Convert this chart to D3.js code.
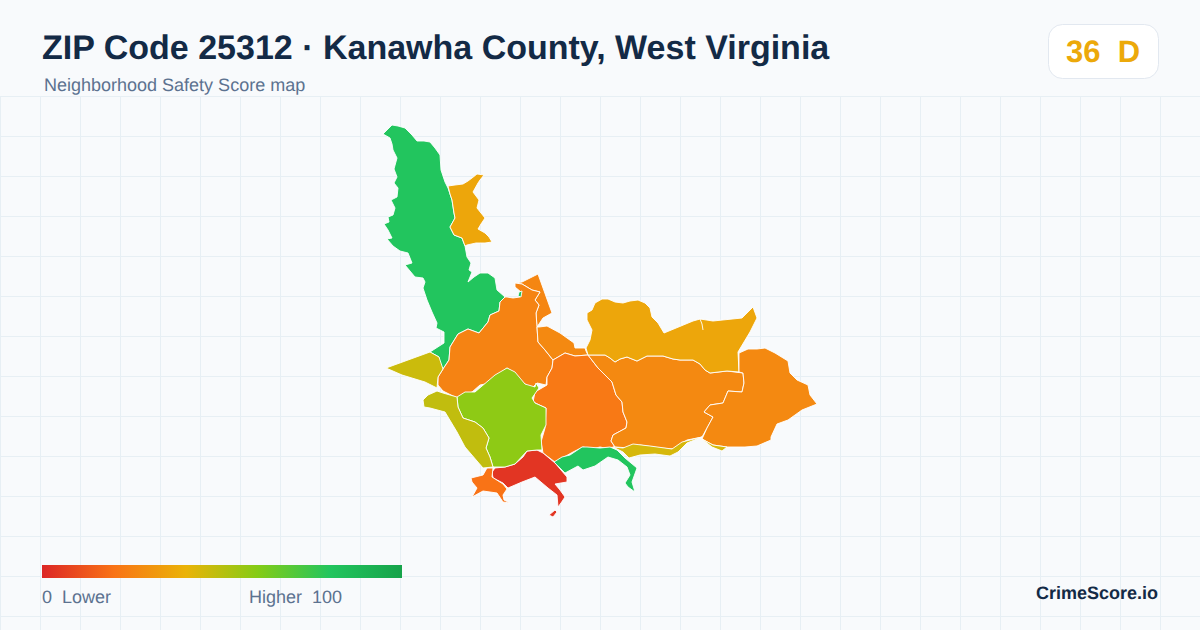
<!DOCTYPE html>
<html>
<head>
<meta charset="utf-8">
<script src="https://cdn.jsdelivr.net/npm/d3@7"></script>
<style>
  html, body { margin: 0; padding: 0; background: #f8fafc; }
  svg { display: block; font-family: "Liberation Sans", Arial, sans-serif; text-rendering: geometricPrecision; }
</style>
</head>
<body>
<svg id="chart" width="1200" height="630"></svg>
<script>
// Zone outlines in map units, scores
const northGreen = [[383,134],[388,129],[392,125],[398,126],[405,128],[409,132],[412,135],[417,141],[424,141],[430,142],[435,148],[440,155],[441,170],[445,182],[448,188],[450,194],[452,200],[454,213],[455,218],[450,227],[454,235],[462,238],[465,246],[467,257],[471,263],[469,270],[472,272],[468,282],[474,277],[480,273],[488,273],[495,278],[497,290],[505,297],[500,302],[499,311],[490,315],[488,322],[479,333],[468,329],[458,334],[450,347],[449,360],[443,369],[439,365],[439,357],[430,352],[444,343],[444,332],[436,328],[437,323],[432,312],[427,300],[423,288],[425,282],[423,278],[415,277],[405,265],[412,263],[408,253],[400,251],[393,246],[387,239],[392,238],[388,230],[384,224],[389,222],[388,217],[393,215],[395,208],[391,200],[397,197],[398,188],[394,183],[397,177],[394,169],[397,158],[393,150],[392,144],[390,138]];
const northGold = [[448,186],[455,185],[463,184],[468,181],[472,178],[477,174],[484,175],[480,180],[478,183],[473,192],[476,196],[479,200],[477,208],[481,213],[485,218],[481,224],[478,229],[485,233],[489,237],[492,242],[485,243],[476,243],[467,245],[465,246],[462,238],[454,235],[450,227],[455,218],[454,213],[452,200],[450,194]];
const ridgeStrip = [[515,283],[522,282],[538,274],[552,313],[543,318],[537,327],[536,313],[539,305],[535,300],[540,292],[532,290],[522,284]];
const westOrange = [[505,297],[507,297],[513,298],[520,297],[521,292],[515,287],[515,283],[522,284],[532,290],[540,292],[535,300],[539,305],[536,313],[537,327],[538,342],[545,350],[553,360],[552,368],[547,377],[546,385],[537,383],[532,388],[523,383],[515,373],[507,368],[495,377],[490,383],[480,385],[472,392],[457,398],[443,391],[438,385],[438,377],[443,369],[449,360],[450,347],[458,334],[468,329],[479,333],[488,322],[490,315],[499,311],[500,302]];
const smallOrange = [[539,327],[547,326],[560,333],[574,343],[575,348],[585,348],[586,351],[588,355],[575,356],[565,353],[553,360],[545,350],[538,342],[537,327]];
const centerOrange = [[553,360],[565,353],[575,356],[588,355],[598,368],[612,382],[616,395],[622,402],[623,412],[627,422],[626,428],[613,435],[611,441],[615,447],[605,448],[600,447],[592,449],[583,447],[573,452],[555,462],[543,453],[541,442],[545,428],[546,408],[533,402],[535,392],[547,385],[547,377],[552,368]];
const eastOrange = [[588,355],[598,355],[605,355],[610,358],[615,362],[620,359],[627,357],[637,361],[647,356],[655,356],[663,356],[673,359],[680,360],[693,360],[700,364],[705,370],[710,373],[727,371],[743,373],[744,383],[742,392],[728,391],[723,403],[710,405],[704,412],[713,417],[707,428],[702,437],[687,440],[673,449],[660,448],[640,445],[630,448],[615,447],[611,441],[613,435],[626,428],[627,422],[623,412],[622,402],[616,395],[612,382],[598,368]];
const ridgeGold = [[587,313],[592,310],[595,303],[602,299],[608,299],[615,302],[623,303],[630,301],[638,300],[645,303],[650,308],[652,317],[658,323],[664,333],[693,321],[700,319],[713,321],[742,318],[753,307],[757,318],[750,332],[738,352],[739,372],[727,371],[710,373],[705,370],[700,364],[693,360],[680,360],[673,359],[663,356],[655,356],[647,356],[637,361],[627,357],[620,359],[615,362],[610,358],[605,355],[598,355],[588,355],[586,348],[590,340],[592,330],[587,320]];
const farEast = [[739,353],[748,349],[757,349],[765,348],[775,353],[788,361],[790,373],[797,380],[808,385],[810,395],[817,404],[802,410],[788,420],[777,424],[771,437],[771,440],[757,446],[745,447],[727,447],[713,445],[702,439],[707,428],[713,417],[704,412],[710,405],[723,403],[728,391],[742,392],[744,383],[743,373],[739,372]];
const yellowStrip = [[613,447],[623,448],[633,444],[650,446],[672,449],[682,442],[702,437],[687,443],[678,452],[670,456],[655,454],[640,455],[629,458],[623,452]];
const yellowSliver = [[702,439],[713,445],[727,447],[722,451],[712,447]];
const riverGreen = [[554,462],[562,457],[570,455],[582,447],[587,447],[600,448],[610,447],[617,450],[625,458],[637,468],[632,482],[635,492],[628,487],[625,483],[630,475],[627,467],[618,460],[608,457],[595,466],[583,470],[578,466],[565,473]];
const southRed = [[527,451],[537,450],[543,453],[555,463],[567,477],[567,482],[555,484],[560,490],[565,497],[561,503],[558,507],[557,495],[548,488],[535,477],[522,482],[508,488],[503,483],[493,478],[492,472],[495,468],[505,467],[515,464],[523,457]];
const redSpeck = [[549,515],[555,510],[557,512],[553,517]];
const southOrange = [[493,468],[492,477],[503,484],[507,489],[503,495],[504,500],[510,503],[503,502],[497,493],[483,491],[472,497],[477,488],[472,482],[471,478],[483,475],[487,468]];
const limeCore = [[457,397],[465,392],[475,392],[495,375],[507,368],[515,372],[525,384],[535,387],[536,383],[539,388],[532,398],[535,403],[546,408],[546,425],[541,435],[542,450],[537,450],[527,451],[515,464],[505,467],[493,467],[490,457],[486,448],[489,438],[483,428],[475,422],[463,418],[458,407]];
const oliveSouth = [[423,400],[428,395],[437,391],[443,393],[457,397],[458,407],[463,418],[475,422],[483,428],[489,438],[486,448],[490,457],[493,467],[483,468],[465,447],[457,432],[445,412],[430,408],[424,407]];
const oliveWest = [[386,368],[430,352],[439,357],[443,369],[438,377],[437,388],[425,382],[402,375]];
const greenSpeck = [[519,292],[522,291],[521,297],[518,296]];

const zoneRings = [northGreen, northGold, ridgeStrip, westOrange, smallOrange, centerOrange, eastOrange, ridgeGold, farEast, yellowStrip, yellowSliver, riverGreen, southRed, redSpeck, southOrange, limeCore, oliveSouth, oliveWest, greenSpeck];
const zoneScores = [80, 36, 26, 25, 27, 22, 27, 36, 27, 44, 44, 80, 4, 4, 20, 58, 48, 46, 80];
const ridgeDivider = [[700,319],[702,324],[703,330]];

// Legend
const legendStops = [0, 20, 40, 60, 80, 100];
const legendColors = ["#dc2626", "#f97316", "#eab308", "#84cc16", "#22c55e", "#16a34a"];

const titleText = "ZIP Code 25312 · Kanawha County, West Virginia";
const subtitleText = "Neighborhood Safety Score map";
const badgeText = "36  D";
const brandText = "CrimeScore.io";

const width = 1200, height = 630;
const svg = d3.select("#chart");
const color = d3.scaleLinear().domain(legendStops).range(legendColors);

// Background + grid
svg.append("rect").attr("width", width).attr("height", height).attr("fill", "#f8fafc");
const gridX = d3.range(0, width, 40);
const gridY = d3.range(96, height, 40);
const grid = svg.append("g").attr("stroke", "#e7eff4").attr("stroke-width", 1);
grid.selectAll("line.v").data(gridX).enter().append("line").attr("class", "v")
  .attr("x1", d => d + 0.5).attr("x2", d => d + 0.5).attr("y1", 96).attr("y2", height);
grid.selectAll("line.h").data(gridY).enter().append("line").attr("class", "h")
  .attr("x1", 0).attr("x2", width).attr("y1", d => d + 0.5).attr("y2", d => d + 0.5);

// Map
const features = zoneRings.map((ring, i) => ({
  type: "Feature",
  properties: { score: zoneScores[i] },
  geometry: { type: "Polygon", coordinates: [ring.concat([ring[0]])] }
}));
const collection = { type: "FeatureCollection", features: features };
const projection = d3.geoIdentity().fitExtent([[383, 125], [817, 517]], collection);
const path = d3.geoPath(projection);

svg.append("g").selectAll("path")
  .data(features)
  .enter().append("path")
  .attr("d", path)
  .attr("fill", d => color(d.properties.score))
  .attr("stroke", "#fff")
  .attr("stroke-width", 0.9)
  .attr("stroke-linejoin", "round");

svg.append("path")
  .attr("d", path({ type: "LineString", coordinates: ridgeDivider }))
  .attr("fill", "none").attr("stroke", "#fff").attr("stroke-width", 0.9);

// Header
svg.append("text").attr("x", 42).attr("y", 59)
  .attr("font-size", 34).attr("font-weight", 700).attr("fill", "#132a46").text(titleText);
svg.append("text").attr("x", 44).attr("y", 91)
  .attr("font-size", 18).attr("fill", "#5c7290").text(subtitleText);

svg.append("rect").attr("x", 1048.5).attr("y", 24.5).attr("width", 110).attr("height", 54).attr("rx", 14)
  .attr("fill", "#fff").attr("stroke", "#e2e8f0");
svg.append("text").attr("x", 1103).attr("y", 62).attr("text-anchor", "middle")
  .attr("font-size", 31).attr("font-weight", 700).attr("fill", color(37))
  .style("white-space", "pre").text(badgeText);

// Legend bar
const legendX = d3.scaleLinear().domain([0, 100]).range([42, 402]);
const grad = svg.append("defs").append("linearGradient").attr("id", "scoreGradient");
grad.selectAll("stop").data(legendStops).enter().append("stop")
  .attr("offset", d => d + "%").attr("stop-color", d => color(d));
svg.append("rect").attr("x", legendX(0)).attr("y", 565).attr("width", legendX(100) - legendX(0)).attr("height", 13)
  .attr("fill", "url(#scoreGradient)");
svg.append("text").attr("x", 42).attr("y", 603).attr("font-size", 18).attr("fill", "#5c7290")
  .style("white-space", "pre").text("0  Lower");
svg.append("text").attr("x", 342).attr("y", 603).attr("text-anchor", "end").attr("font-size", 18).attr("fill", "#5c7290")
  .style("white-space", "pre").text("Higher  100");

svg.append("text").attr("x", 1158).attr("y", 599).attr("text-anchor", "end")
  .attr("font-size", 18).attr("font-weight", 700).attr("fill", "#132a46").text(brandText);
</script>
</body>
</html>
